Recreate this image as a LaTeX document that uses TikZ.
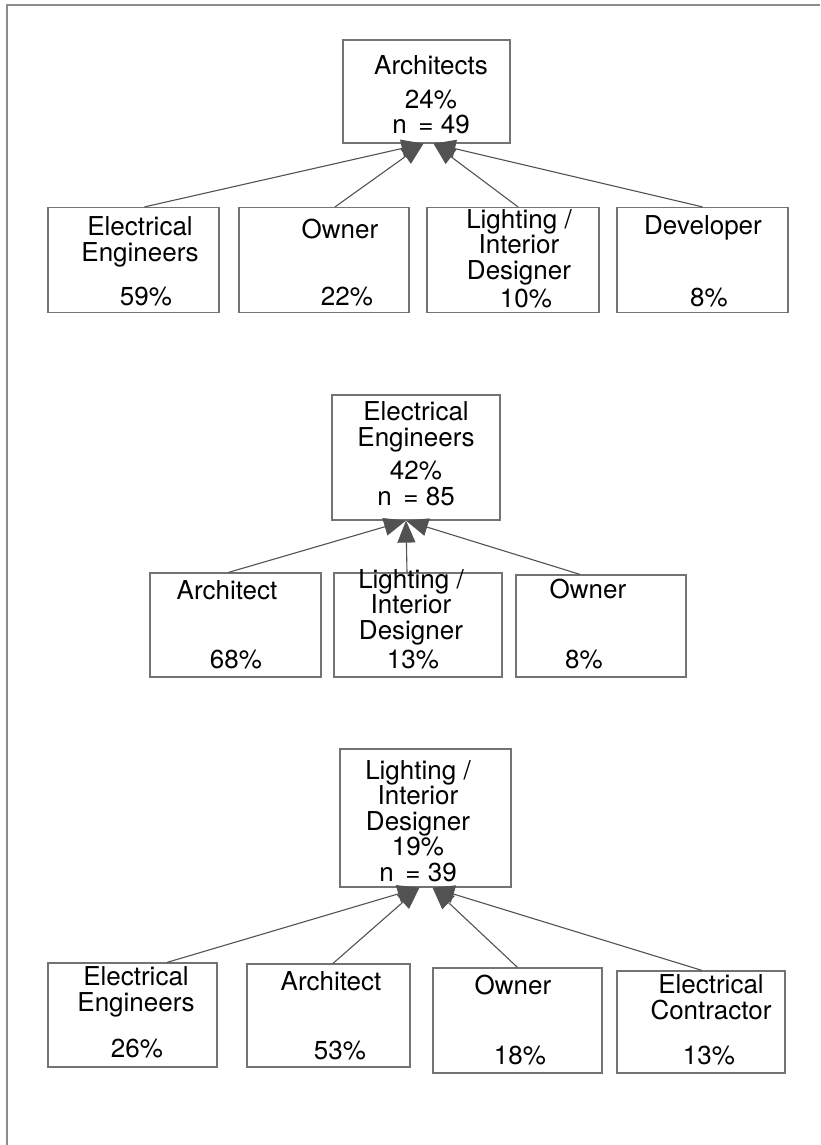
\documentclass[tikz,border=0pt]{standalone}
\usepackage{fontspec}
\setmainfont{TeX Gyre Heros}
\usetikzlibrary{arrows.meta}

\begin{document}
\begin{tikzpicture}[
  x=1pt, y=-1pt,
  every node/.style={font=\fontsize{26}{25.5}\selectfont, inner sep=0pt},
  box/.style={draw=black!55, line width=1.2pt},
  txt/.style={align=center, anchor=base},
  link/.style={draw=black!65, line width=1.1pt,
    -{Triangle[length=22pt,width=18pt]}, color=black!68}
]
\useasboundingbox (0,0) rectangle (820,1145);
% outer frame (only top and left edges show)
\draw[black!45, line width=2pt] (6.5,1145) -- (6.5,5.5) -- (820,5.5);

% ---- group 1: Architects ----
\node[box, minimum width=167, minimum height=103] (pA) at (426.5,91.5) {};
\node[txt] (pAt) at (431,134) {Architects\\[8pt]24\%\\n\hspace{0.45em}= 49};

\node[box, minimum width=171, minimum height=105] (a1) at (133.5,260) {};
\node[box, minimum width=170, minimum height=105] (a2) at (324,260) {};
\node[box, minimum width=172, minimum height=105] (a3) at (513,260) {};
\node[box, minimum width=171, minimum height=105] (a4) at (702.5,260) {};

\node[txt] (a1t) at (140,261) {Electrical\\Engineers};
\node[txt] (a1p) at (146,305) {59\%};
\node[txt] (a2t) at (340,238) {Owner};
\node[txt] (a2p) at (347,305) {22\%};
\node[txt] (a3t) at (519,279) {Lighting /\\Interior\\Designer};
\node[txt] (a3p) at (526,307) {10\%};
\node[txt] (a4t) at (703,234) {Developer};
\node[txt] (a4p) at (709,306) {8\%};

\draw[link] ([xshift=11]a1.north) -- ([xshift=-3]pA.south);
\draw[link] ([xshift=11]a2.north) -- ([xshift=-3]pA.south);
\draw[link] ([xshift=5]a3.north) -- ([xshift=7]pA.south);
\draw[link] (a4.north) -- ([xshift=7]pA.south);

% ---- group 2: Electrical Engineers ----
\node[box, minimum width=168, minimum height=125] (pB) at (416,457.5) {};
\node[txt] (pBt) at (416,505) {Electrical\\Engineers\\[8pt]42\%\\n\hspace{0.45em}= 85};

\node[box, minimum width=171, minimum height=104] (b1) at (235.5,625) {};
\node[box, minimum width=168, minimum height=104] (b2) at (418,625) {};
\node[box, minimum width=170, minimum height=102] (b3) at (601,626) {};

\node[txt] (b1t) at (227,599) {Architect};
\node[txt] (b1p) at (236,668) {68\%};
\node[txt] (b2t) at (411,639) {Lighting /\\Interior\\Designer};
\node[txt] (b2p) at (413,668) {13\%};
\node[txt] (b3t) at (588,598) {Owner};
\node[txt] (b3p) at (584,668) {8\%};

\draw[link] ([xshift=-7]b1.north) -- ([xshift=-10]pB.south);
\draw[link] ([xshift=-11]b2.north) -- ([xshift=-10]pB.south);
\draw[link] ([xshift=-21]b3.north) -- ([xshift=-10]pB.south);

% ---- group 3: Lighting / Interior Designer ----
\node[box, minimum width=171, minimum height=138] (pC) at (425.5,818) {};
\node[txt] (pCt) at (418,881) {Lighting /\\Interior\\Designer\\19\%\\n\hspace{0.45em}= 39};

\node[box, minimum width=169, minimum height=104] (c1) at (132.5,1015) {};
\node[box, minimum width=163, minimum height=103] (c2) at (328.5,1015.5) {};
\node[box, minimum width=169, minimum height=105] (c3) at (517.5,1020.5) {};
\node[box, minimum width=168, minimum height=102] (c4) at (701,1022) {};

\node[txt] (c1t) at (136,1011) {Electrical\\Engineers};
\node[txt] (c1p) at (137,1057) {26\%};
\node[txt] (c2t) at (331,990) {Architect};
\node[txt] (c2p) at (340,1059) {53\%};
\node[txt] (c3t) at (513,994) {Owner};
\node[txt] (c3p) at (520,1064) {18\%};
\node[txt] (c4t) at (711,1019) {Electrical\\Contractor};
\node[txt] (c4p) at (709,1064) {13\%};

\draw[link] ([xshift=34.5]c1.north) -- ([xshift=-6]pC.south);
\draw[link] ([xshift=4.5]c2.north) -- ([xshift=-6]pC.south);
\draw[link] (c3.north) -- ([xshift=7]pC.south);
\draw[link] ([xshift=1]c4.north) -- ([xshift=7]pC.south);
\end{tikzpicture}
\end{document}
